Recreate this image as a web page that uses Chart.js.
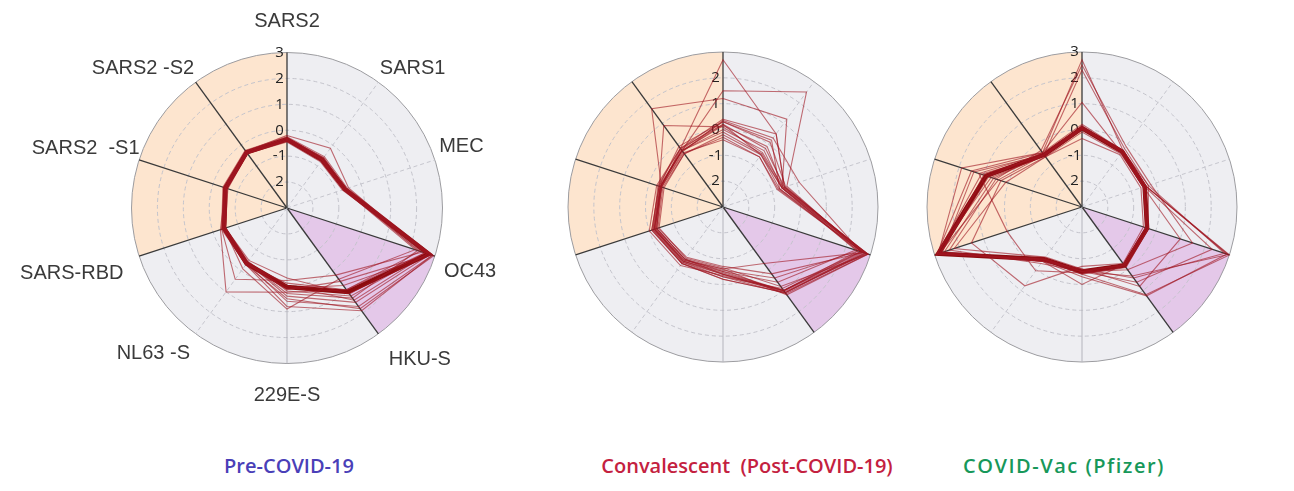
<!DOCTYPE html>
<html lang="en">
<head>
<meta charset="UTF-8">
<title>Antibody profile radars</title>
<script src="https://cdn.jsdelivr.net/npm/chart.js"></script>
<style>
  body { margin: 0; background: #fff; width: 1294px; height: 491px; overflow: hidden; position: relative; }
  canvas { position: absolute; }
  #preChart { left: -7px; top: 9px; }
  #convChart { left: 561px; top: 45px; }
  #vacChart { left: 920px; top: 45px; }
  .cap { position: absolute; top: 452px; font-family: 'Open Sans', sans-serif; font-weight: 600; font-size: 20px; transform: translateX(-50%); white-space: pre; }
</style>
</head>
<body>

<canvas id="preChart" width="574" height="399"></canvas>
<canvas id="convChart" width="325" height="325"></canvas>
<canvas id="vacChart" width="325" height="325"></canvas>

<div class="cap" style="left:289px;color:#4a3fb8">Pre-COVID-19</div>
<div class="cap" style="left:747px;color:#c4213f">Convalescent  (Post-COVID-19)</div>
<div class="cap" style="left:1064px;color:#17985a;letter-spacing:1.5px">COVID-Vac (Pfizer)</div>

<script>
const antigens = ['SARS2', 'SARS1', 'MEC', 'OC43', 'HKU-S', '229E-S', 'NL63 -S', 'SARS-RBD', 'SARS2  -S1', 'SARS2 -S2'];

// one row per donor, columns follow antigens
const preCovid = [
  [-0.30, -0.60, -0.60, 2.90, 1.90, 0.80, -0.30, -0.40, -0.45, -0.30],
  [-0.40, -0.75, -0.70, 2.80, 1.50, 0.40, -0.40, -0.50, -0.55, -0.40],
  [-0.20, -0.15, -0.50, 2.60, 0.90, -0.10, -0.30, -0.40, -0.50, -0.30],
  [-0.35, -0.70, -0.70, 2.20, 0.40, 0.90, -0.10, -0.45, -0.50, -0.35],
  [-0.45, -0.80, -0.75, 2.70, 1.20, 0.20, -0.45, -0.50, -0.55, -0.40],
  [-0.30, -0.65, -0.60, 2.50, 0.20, -0.20, 0.40, -0.35, -0.45, -0.30],
  [-0.40, -0.70, -0.70, 2.90, 1.70, 0.60, -0.35, -0.45, -0.50, -0.35],
  [-0.35, -0.70, -0.65, 2.30, 1.30, 0.30, -0.40, -0.50, -0.55, -0.40],
  [-0.30, -0.60, -0.60, 2.85, 0.70, 0.10, -0.35, -0.40, -0.45, -0.30],
  [-0.40, -0.75, -0.70, 2.60, 1.10, -0.30, -0.50, -0.50, -0.60, -0.40],
  [-0.25, -0.55, -0.55, 2.95, 1.80, 0.50, -0.30, -0.35, -0.40, -0.25],
  [-0.40, -0.70, -0.70, 2.40, 0.90, 0.25, 1.00, -0.30, -0.50, -0.35],
  [-0.35, -0.65, -0.65, 2.70, 1.40, 0.00, -0.40, -0.45, -0.50, -0.35],
  [-0.30, -0.70, -0.70, 2.80, 0.50, 0.15, -0.35, -0.40, -0.50, -0.30]
];
const preCovidMean = [-0.35, -0.70, -0.65, 2.75, 1.00, 0.05, -0.35, -0.45, -0.50, -0.35];

const convalescent = [
  [0.20, -0.50, -0.60, 2.70, 1.10, -0.40, -0.40, -0.20, -0.45, -0.30],
  [2.70, 0.50, -0.50, 2.80, 1.00, -0.50, -0.50, -0.30, -0.50, -0.20],
  [1.50, 2.50, -0.40, 2.60, 0.90, -0.30, -0.30, -0.10, -0.40, -0.30],
  [1.20, 1.20, -0.60, 2.90, 1.20, -0.60, -0.45, -0.20, -0.50, 1.70],
  [0.30, 0.20, -0.70, 2.50, 1.00, -0.40, -0.50, -0.30, -0.45, -0.25],
  [-0.30, -0.60, -0.80, 2.70, 0.20, -0.70, -0.60, -0.35, -0.55, -0.45],
  [0.40, 0.50, -0.50, 2.80, 1.10, -0.20, -0.30, -0.15, -0.35, -0.20],
  [0.00, -0.30, -0.60, 2.40, 0.60, -0.50, -0.40, -0.25, -0.45, -0.30],
  [0.10, -0.40, -0.55, 2.90, 1.15, -0.30, -0.35, -0.20, -0.40, 0.90],
  [0.35, 0.30, 0.10, 2.60, 1.00, -0.45, -0.40, -0.20, -0.50, -0.35],
  [-0.40, -0.60, -0.75, 2.70, -0.30, -0.60, -0.50, -0.30, -0.50, -0.40],
  [0.20, -0.20, -0.50, 2.85, 1.05, -0.35, -0.20, 0.00, -0.30, -0.20],
  [-0.10, -0.45, -0.60, 2.50, 0.40, -0.55, -0.45, -0.25, -0.45, -0.30],
  [0.30, 0.10, -0.45, 2.75, 1.10, -0.20, -0.30, -0.10, -0.40, -0.10],
  [-0.20, -0.50, -0.70, 2.90, 0.80, -0.65, -0.55, -0.40, -0.60, -0.45],
  [0.15, -0.10, -0.55, 2.65, 1.00, -0.40, -0.35, -0.15, -0.45, -0.30]
];

const vaccinated = [
  [2.70, -0.30, -0.40, 3.00, 1.20, -0.40, -0.50, 2.90, 1.50, -0.40],
  [2.30, -0.20, -0.30, 2.80, 0.40, -0.60, -0.40, 2.70, 1.00, -0.50],
  [1.05, -0.40, -0.50, -0.30, -0.20, -0.50, -0.50, 2.80, 0.80, -0.40],
  [0.10, -0.35, -0.45, -0.40, -0.25, -0.50, -0.55, 2.90, 1.10, -0.55],
  [-0.35, -0.50, -0.60, -0.50, -0.30, -0.70, 0.77, 1.50, 0.30, -0.60],
  [0.00, -0.30, -0.40, 2.90, 1.25, -0.30, -0.40, 2.60, 0.60, -0.50],
  [0.20, -0.30, -0.30, -0.30, -0.10, -0.40, -0.45, 2.85, 1.90, -0.40],
  [2.50, -0.10, -0.20, 1.50, 0.00, -0.50, -0.30, 2.40, 0.50, -0.30],
  [0.05, -0.40, -0.50, -0.35, -0.20, -0.55, -0.50, 2.90, 0.90, -0.50],
  [-0.10, -0.45, -0.50, 1.00, 0.80, -0.60, -0.60, 2.20, 0.10, -0.60],
  [0.10, -0.30, -0.40, -0.30, -0.15, -0.45, 0.05, 0.05, 1.20, -0.45],
  [0.00, -0.35, -0.45, 2.30, 0.60, -0.50, -0.50, 2.95, 0.70, -0.55],
  [0.15, -0.40, -0.50, -0.40, -0.25, 0.00, -0.40, 2.70, 1.40, -0.50],
  [0.05, -0.30, -0.40, 2.95, 0.30, -0.50, -0.45, 2.80, 0.40, -0.50]
];
const vaccinatedMean = [0.05, -0.35, -0.45, -0.35, -0.20, -0.50, -0.50, 2.85, 0.90, -0.50];

const darkAxes = [0, 3, 4, 7, 8, 9];
// per-label gap between ring and antigen name (keeps them where the figure has them)
const labelGap = [12, -5, -3, 2, 10, 12, 2, 9, -8, -5];

// light disc with the orange (SARS2 antigens) and purple (OC43-HKU) sectors
const sectors = {
  id: 'sectors',
  beforeDraw(chart) {
    const s = chart.scales.r, ctx = chart.ctx;
    const cx = s.xCenter, cy = s.yCenter, R = s.drawingArea;
    const ang = i => s.getIndexAngle(i) - Math.PI / 2;
    const wedge = (a, b, color) => {
      ctx.fillStyle = color;
      ctx.beginPath();
      ctx.moveTo(cx, cy);
      ctx.arc(cx, cy, R, a, b);
      ctx.closePath();
      ctx.fill();
    };
    ctx.save();
    ctx.fillStyle = '#eeeef2';
    ctx.beginPath();
    ctx.arc(cx, cy, R, 0, Math.PI * 2);
    ctx.fill();
    wedge(ang(7), ang(0) + Math.PI * 2, '#fde5cf');
    wedge(ang(3), ang(4), '#e4c8e9');
    ctx.restore();
  }
};

function radar(id, rows, mean, showLabels, showThree) {
  const datasets = rows.map(r => ({
    data: r, borderColor: 'rgba(160,22,34,0.62)', borderWidth: 1.1,
    pointRadius: 0, fill: false
  }));
  if (mean) datasets.push({ data: mean, borderColor: '#8c0c0f', borderWidth: 4.5, pointRadius: 0, fill: false });

  new Chart(document.getElementById(id), {
    type: 'radar',
    data: { labels: antigens, datasets },
    plugins: [sectors],
    options: {
      responsive: false,
      animation: false,
      plugins: { legend: { display: false }, tooltip: { enabled: false } },
      elements: { line: { tension: 0 } },
      scales: {
        r: {
          min: -3, max: 3, startAngle: 0,
          ticks: {
            stepSize: 1,
            showLabelBackdrop: false,
            backdropPadding: 0,
            color: '#222',
            font: { family: 'Open Sans', size: 15 },
            // trailing em space nudges each label to the left of the axis
            callback: v => v === -3 || (v === 3 && !showThree) ? '' : (v === -2 ? '2' : String(v)) + '\u2003'
          },
          grid: {
            circular: true,
            color: c => c.index === 6 ? '#9c9ca0' : '#c4c4cc',
            lineWidth: 1
          },
          border: { dash: c => c.index === 6 ? [] : [4, 3] },
          angleLines: {
            color: c => darkAxes.includes(c.index) ? '#3a3a3a' : (c.index === 5 ? '#b4b4bc' : '#c6c6ce'),
            lineWidth: c => darkAxes.includes(c.index) ? 1.3 : 1,
            borderDash: c => darkAxes.includes(c.index) || c.index === 5 ? [] : [4, 3]
          },
          pointLabels: {
            display: showLabels,
            padding: c => labelGap[c.index],
            color: '#3a3a3a',
            font: { family: 'Liberation Sans', size: 20 }
          }
        }
      }
    }
  });
}

radar('preChart', preCovid, preCovidMean, true, true);
radar('convChart', convalescent, null, false, false);
radar('vacChart', vaccinated, vaccinatedMean, false, true);
</script>

</body>
</html>
